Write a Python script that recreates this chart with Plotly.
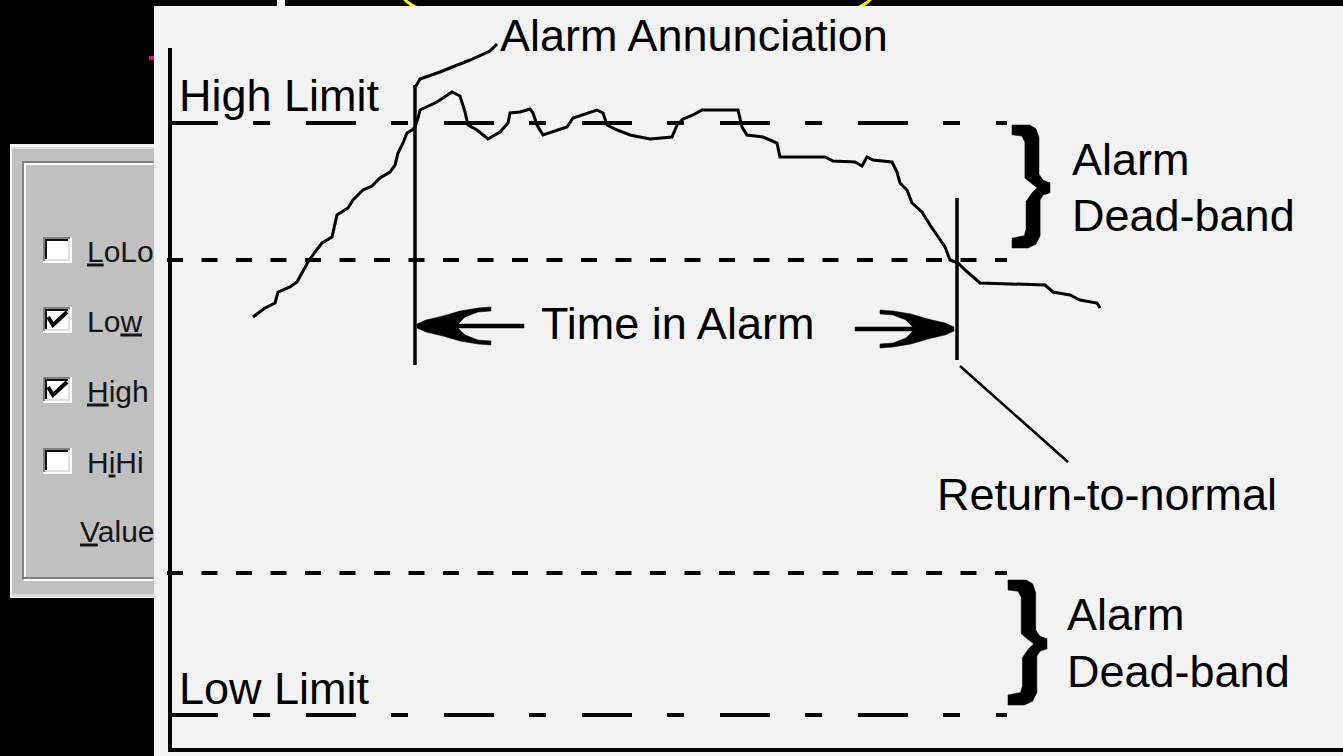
import plotly.graph_objects as go

W, H = 1343, 756
SPLIT = 154  # left edge of the diagram panel (pixels)

# ---------------- data (pixel units of the diagram) ----------------
TIME = [253, 265, 275, 278, 290, 297, 302, 308, 315, 322, 332, 335, 337, 348, 353, 363, 372, 380,
        390, 395, 398, 403, 407, 412, 415, 418, 420, 437, 452, 460, 465, 468, 477, 488, 500, 508,
        510, 520, 530, 533, 537, 543, 555, 567, 573, 587, 597, 603, 607, 617, 630, 650, 672, 677,
        683, 693, 702, 738, 742, 747, 763, 777, 780, 825, 833, 855, 862, 867, 873, 892, 897, 900,
        907, 912, 922, 930, 938, 945, 950, 958, 965, 980, 1045, 1053, 1070, 1080, 1097, 1100]
VALUE = [317, 308, 303, 292, 287, 282, 273, 262, 252, 243, 237, 225, 215, 208, 200, 190, 186, 178,
         172, 165, 153, 143, 133, 130, 127, 118, 110, 102, 92, 96, 112, 125, 130, 139, 132, 123,
         113, 112, 109, 113, 125, 135, 131, 127, 118, 113, 110, 113, 125, 130, 135, 139, 137, 125,
         119, 115, 110, 110, 127, 135, 137, 143, 157, 157, 161, 162, 166, 157, 160, 162, 172, 183,
         190, 203, 212, 225, 237, 247, 260, 263, 270, 283, 285, 292, 295, 300, 303, 308]

HIGH_LIMIT = 123
HIGH_DEADBAND = 260
LOW_DEADBAND = 573
LOW_LIMIT = 715
LIMIT_X = [168, 1007]
DEADBAND_X = [167, 1007]

AXIS_X = 170
AXIS_Y = 750
AXIS_TOP = 48

ALARM_T = 415
ALARM_MARK_Y = [85, 365]
RETURN_T = 957
RETURN_MARK_Y = [198, 360]

ANNUNC_X = [416, 420, 440, 470, 490, 497]
ANNUNC_Y = [86, 79, 72, 60, 51, 44]
RTN_X = [960, 1068]
RTN_Y = [366, 462]

LABELS = ["Alarm Annunciation", "High Limit", "Time in Alarm", "Return-to-normal",
          "Alarm", "Dead-band", "Alarm", "Dead-band", "Low Limit"]
LABEL_X = [500, 179, 541, 937, 1072, 1072, 1067, 1067, 179]
LABEL_Y = [35, 95, 323, 494, 159, 215, 614, 671, 688]

CHECK_LABELS = ["<u>L</u>oLo", "Lo<u>w</u>", "<u>H</u>igh", "H<u>i</u>Hi"]
CHECK_STATE = [False, True, True, False]
CHECK_Y = [250, 320, 390, 461]
VALUE_LABEL = "<u>V</u>alue"
VALUE_LABEL_Y = 531

FONT = "Liberation Sans, Arial, sans-serif"
BIG = 45
SMALL = 30

fig = go.Figure()


def line(x, y, width=3, dash=None, color="black", dialog=False):
    fig.add_trace(go.Scatter(x=x, y=y, mode="lines", hoverinfo="skip", showlegend=False,
                             line=dict(color=color, width=width, dash=dash),
                             xaxis="x2" if dialog else "x", yaxis="y2" if dialog else "y"))


def poly(x, y, color="black"):
    fig.add_trace(go.Scatter(x=x + [x[0]], y=y + [y[0]], mode="lines", fill="toself",
                             fillcolor=color, line=dict(color=color, width=0.5),
                             hoverinfo="skip", showlegend=False))


def brace(xl, xt, yt, yb):
    tpl = [(0, 0), (0.47, 0), (0.63, 0.03), (0.71, 0.10), (0.71, 0.40), (0.82, 0.45), (1, 0.47),
           (1, 0.55), (0.82, 0.57), (0.74, 0.61), (0.74, 0.90), (0.63, 0.97), (0.42, 1), (0, 1),
           (0, 0.92), (0.32, 0.90), (0.37, 0.85), (0.37, 0.62), (0.53, 0.55), (0.66, 0.51),
           (0.53, 0.48), (0.34, 0.43), (0.34, 0.14), (0.26, 0.09), (0, 0.08)]
    poly([xl + u * (xt - xl) for u, _ in tpl], [yt + v * (yb - yt) for _, v in tpl])


def arrow(tip, direction, cy, shaft):
    tpl = [(1, -2), (10, -6), (27, -10), (44, -15), (62, -18), (75, -19), (75, -15), (62, -14),
           (49, -9), (42, -2), (shaft, -2), (shaft, 2), (42, 2), (49, 9), (62, 14), (75, 15),
           (75, 19), (62, 18), (44, 15), (27, 10), (10, 6), (1, 2)]
    poly([tip + direction * u for u, _ in tpl], [cy + v for _, v in tpl])


# ---------------- chart ----------------
line([AXIS_X, AXIS_X, W], [AXIS_TOP, AXIS_Y, AXIS_Y], width=4)
line(LIMIT_X, [HIGH_LIMIT] * 2, width=4, dash="50px,35px,17px,36px")
line(DEADBAND_X, [HIGH_DEADBAND] * 2, width=4, dash="16px,18.5px")
line(DEADBAND_X, [LOW_DEADBAND] * 2, width=4, dash="16px,18.5px")
line(LIMIT_X, [LOW_LIMIT] * 2, width=4, dash="50px,35px,17px,36px")
line([ALARM_T] * 2, ALARM_MARK_Y, width=3.5)
line([RETURN_T] * 2, RETURN_MARK_Y, width=3.5)
line(TIME, VALUE, width=3)
line(ANNUNC_X, ANNUNC_Y, width=3)
line(RTN_X, RTN_Y, width=2.5)
arrow(ALARM_T + 1, 1, 326, 108)
arrow(RETURN_T - 2, -1, 329, 100)
brace(1012, 1050, 125, 248)
brace(1008, 1047, 580, 705)

fig.add_trace(go.Scatter(x=LABEL_X, y=[v + 5 for v in LABEL_Y], text=LABELS, mode="text",
                         textposition="middle right", hoverinfo="skip", showlegend=False,
                         textfont=dict(family=FONT, size=BIG, color="black")))

# ---------------- dialog (left, clipped by the diagram panel) ----------------
shapes = []
# decorations in the top black strip, then the light panel
shapes.append(dict(type="circle", xref="x", yref="y", x0=402, x1=873, y0=-49, y1=35,
                   line=dict(color="#ffff00", width=3), layer="below"))
shapes.append(dict(type="rect", xref="x", yref="y", x0=SPLIT, x1=W, y0=6, y1=H,
                   fillcolor="#f2f2f2", line=dict(width=0), layer="below"))
shapes.append(dict(type="rect", xref="x", yref="y", x0=277, x1=285, y0=0, y1=6,
                   fillcolor="white", line=dict(width=0), layer="below"))


def drect(x0, y0, x1, y1, fill=None, lc=None, lw=0):
    shapes.append(dict(type="rect", xref="x2", yref="y2", x0=x0, y0=y0, x1=x1, y1=y1,
                       fillcolor=fill if fill else "rgba(0,0,0,0)",
                       line=dict(color=lc if lc else "rgba(0,0,0,0)", width=lw), layer="below"))


drect(10, 144, 170, 598, fill="#f4f4f4")
drect(12, 147, 170, 597, fill="#dcdcdc")
drect(12, 149, 170, 594, fill="#c0c0c0")
drect(25, 164, 200, 580, lc="white", lw=2)
drect(23, 162, 200, 578, lc="#808080", lw=2)
drect(149, 56, 154, 60, fill="#e0107f")
for cy in CHECK_Y:
    drect(43, cy - 13, 72, cy + 13, fill="white")
    drect(43, cy - 13, 70, cy + 11, fill="#808080")
    drect(45, cy - 11, 70, cy + 11, fill="#dfdfdf")
    drect(45, cy - 11, 68, cy + 9, fill="#101010")
    drect(47, cy - 9, 68, cy + 9, fill="white")

for cy, on in zip(CHECK_Y, CHECK_STATE):
    if on:
        line([48, 53, 67], [cy - 3, cy + 5, cy - 8], width=4, dialog=True)

fig.add_trace(go.Scatter(x=[87] * 4 + [80], y=[v + 4 for v in CHECK_Y] + [VALUE_LABEL_Y + 3],
                         text=CHECK_LABELS + [VALUE_LABEL], mode="text",
                         textposition="middle right", hoverinfo="skip", showlegend=False,
                         textfont=dict(family=FONT, size=SMALL, color="#151515"),
                         xaxis="x2", yaxis="y2"))

ax = dict(visible=False, showgrid=False, zeroline=False, fixedrange=True)
fig.update_layout(
    width=W, height=H, margin=dict(l=0, r=0, t=0, b=0, pad=0),
    paper_bgcolor="black", plot_bgcolor="black", showlegend=False,
    xaxis=dict(ax, domain=[SPLIT / W, 1], range=[SPLIT, W]),
    yaxis=dict(ax, domain=[0, 1], range=[H, 0]),
    xaxis2=dict(ax, domain=[0, SPLIT / W], range=[0, SPLIT], anchor="y2"),
    yaxis2=dict(ax, domain=[0, 1], range=[H, 0], anchor="x2"),
    shapes=shapes,
)

fig.write_html("out.html", config={"displayModeBar": False},
               post_script="document.body.style.margin='0';document.body.style.overflow='hidden';")
